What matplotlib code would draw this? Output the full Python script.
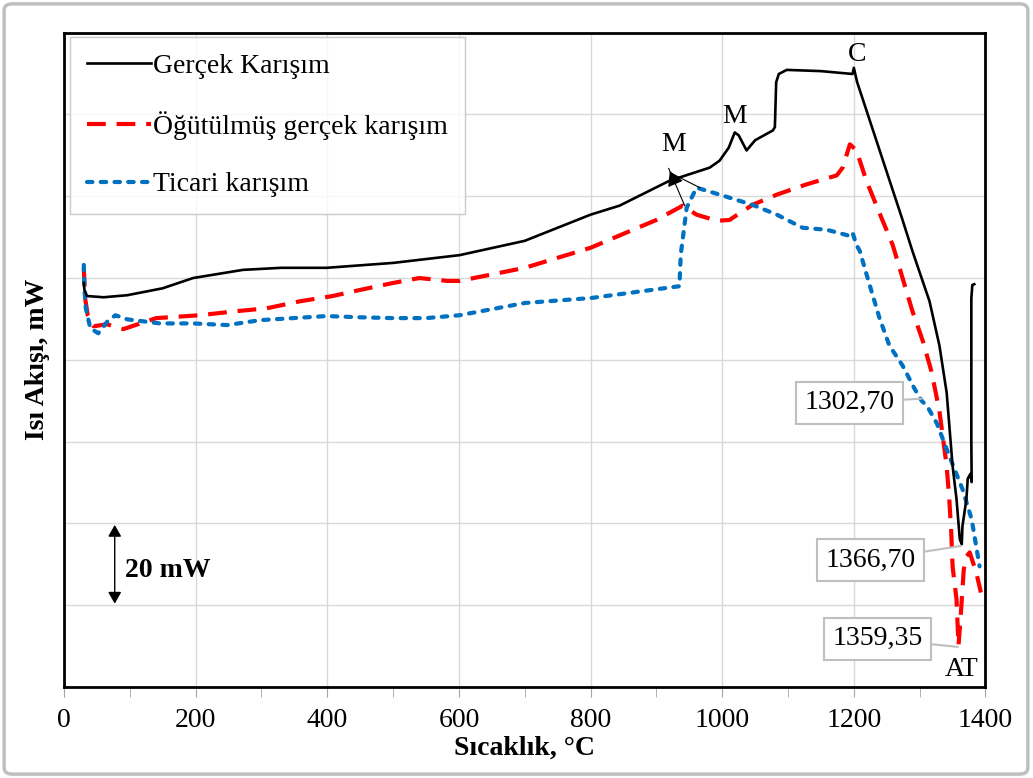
import matplotlib
matplotlib.use("Agg")
import matplotlib.pyplot as plt
from matplotlib.patches import FancyBboxPatch
from matplotlib.ticker import MultipleLocator

plt.rcParams['font.family'] = ['Liberation Serif', 'DejaVu Serif']

# Gerçek Karışım (black)
gercek_t = [30, 31, 35, 60, 96, 150, 196, 272, 330, 399, 500, 601, 700, 800, 844,
            920, 981, 996, 1010, 1019, 1025, 1037, 1050, 1077, 1080, 1082, 1086,
            1098, 1150, 1198, 1200, 1205, 1273, 1289, 1315, 1330, 1341, 1350, 1356,
            1361, 1364, 1365, 1371, 1373, 1377, 1379, 1378.5, 1378.5, 1380, 1383]
gercek_q = [98.8, 97.1, 95.6, 95.3, 95.8, 97.5, 100.0, 102.0, 102.5, 102.5, 103.7,
            105.6, 109.1, 115.5, 117.7, 123.8, 127.0, 128.7, 131.9, 135.6, 134.9,
            131.2, 133.7, 136.1, 136.9, 147.9, 149.9, 150.9, 150.6, 149.9, 151.4,
            147.9, 114.7, 106.6, 94.3, 83.5, 72.0, 54.1, 45.9, 36.1, 34.9, 39.3,
            45.9, 50.9, 52.1, 50.1, 60.0, 95.0, 98.3, 98.5]

# Öğütülmüş gerçek karışım (red)
ogutulmus_t = [30, 32, 36, 45, 65, 90, 140, 206, 262, 308, 358, 408, 450, 500, 540,
               582, 601, 700, 800, 860, 900, 940, 961, 992, 1011, 1046, 1083, 1128,
               1174, 1183, 1194, 1204, 1219, 1242, 1259, 1274, 1289, 1305, 1318, 1330,
               1341, 1345, 1348, 1350, 1356, 1359, 1362, 1367, 1371, 1376, 1386, 1393]
ogutulmus_q = [102.5, 95.1, 90.9, 88.2, 88.7, 87.5, 90.2, 90.9, 91.9, 92.6, 94.3, 95.6,
               97.1, 98.8, 100.0, 99.3, 99.3, 102.5, 107.4, 111.5, 114.2, 117.7, 115.5,
               114.0, 114.2, 117.9, 120.4, 122.9, 125.1, 127.0, 132.7, 131.2, 123.8,
               114.7, 108.1, 100.0, 91.9, 84.5, 77.1, 67.5, 54.1, 45.9, 37.8, 29.5,
               21.4, 10.1, 16.5, 28.7, 31.9, 32.9, 28.0, 23.1]

# Ticari karışım (blue)
ticari_t = [30, 31, 33, 40, 52, 66, 78, 96, 146, 196, 248, 298, 348, 399, 450, 500,
            550, 601, 700, 800, 935, 937, 946, 961, 996, 1046, 1083, 1122, 1159, 1194,
            1198, 1204, 1209, 1224, 1239, 1254, 1274, 1292, 1303, 1312, 1326, 1345,
            1365, 1379, 1391]
ticari_q = [103.2, 97.5, 92.6, 87.7, 86.5, 89.4, 90.9, 89.9, 88.9, 88.9, 88.5, 89.7,
            90.2, 90.7, 90.4, 90.2, 90.2, 90.9, 93.9, 95.1, 98.0, 105.7, 117.2, 122.1,
            120.4, 117.9, 115.5, 112.3, 111.8, 110.3, 111.1, 108.1, 106.6, 98.3, 90.2,
            83.5, 78.6, 73.0, 70.0, 68.5, 64.5, 56.5, 48.4, 41.0, 29.5]

fig = plt.figure(figsize=(10.33, 7.78), dpi=100)
ax = fig.add_axes([0.062, 0.117, 0.892, 0.841])

ax.plot(gercek_t, gercek_q, color='black', lw=1.9, label='Gerçek Karışım', zorder=4)
ax.plot(ogutulmus_t, ogutulmus_q, color='#FF0000', lw=3,
        linestyle=(0, (4.5, 2.6)), label='Öğütülmüş gerçek karışım', zorder=3)
ax.plot(ticari_t, ticari_q, color='#0070C0', lw=3, dash_capstyle='round',
        linestyle=(0, (1.3, 2.0)), label='Ticari karışım', zorder=3)

ax.set_xlim(0, 1400)
ax.set_ylim(0, 160)
ax.xaxis.set_major_locator(MultipleLocator(200))
ax.xaxis.set_minor_locator(MultipleLocator(100))
ax.yaxis.set_major_locator(MultipleLocator(20))
ax.grid(True, color='#d9d9d9', lw=1)
ax.set_axisbelow(True)
ax.tick_params(axis='x', which='both', direction='out', length=7, color='#a6a6a6',
               labelsize=20, pad=8)
ax.tick_params(axis='y', left=False, labelleft=False)
for s in ax.spines.values():
    s.set_linewidth(2)
    s.set_color('black')

ax.set_xlabel('Sıcaklık, °C', fontsize=20, fontweight='bold', labelpad=2)
ax.set_ylabel('Isı Akışı, mW', fontsize=20, fontweight='bold', labelpad=10)

leg = ax.legend(loc='upper left', fontsize=20, frameon=True, fancybox=False,
                handlelength=2.3, handletextpad=0.1, labelspacing=1.16,
                borderpad=0.6, borderaxespad=0, bbox_to_anchor=(0.0065, 0.994))
leg.get_frame().set_edgecolor('#bfbfbf')
leg.get_frame().set_linewidth(1)

# peak markers
ax.plot([943, 918.7], [117.7, 126.8], color='black', lw=0.8, zorder=5)
ax.plot([966, 924], [122.1, 125.5], color='black', lw=0.8, zorder=5)
ax.annotate('', xy=(918.7, 126.8), xytext=(930, 122.6),
            arrowprops=dict(arrowstyle='-|>,head_length=0.9,head_width=0.5',
                            color='black', lw=0.8), zorder=6)
ax.text(926, 129.5, 'M', fontsize=20, ha='center', va='bottom')
ax.text(1019, 136.5, 'M', fontsize=20, ha='center', va='bottom')
ax.text(1205, 151.5, 'C', fontsize=20, ha='center', va='bottom')
ax.text(1364, 1.2, 'AT', fontsize=20, ha='center', va='bottom')

# value callouts
box = dict(boxstyle='square,pad=0.3', facecolor='white', edgecolor='#bfbfbf', lw=1.5)
callouts = [('1302,70', (1303, 70.5), (1193, 69.5)),
            ('1366,70', (1363, 34.5), (1225, 31.0)),
            ('1359,35', (1358, 9.8), (1236, 11.8))]
for txt, xy, xyt in callouts:
    ax.annotate(txt, xy=xy, xytext=xyt, fontsize=20, ha='center', va='center',
                bbox=box, zorder=7,
                arrowprops=dict(arrowstyle='-', color='#bfbfbf', lw=1.5,
                                shrinkA=0, shrinkB=0))

# 20 mW scale bar
ax.annotate('', xy=(77, 40.3), xytext=(77, 19.7),
            arrowprops=dict(arrowstyle='<|-|>,head_length=0.7,head_width=0.4',
                            color='black', lw=1))
ax.text(93, 28.5, '20 mW', fontsize=20, fontweight='bold', ha='left', va='center')

# outer chart border
fig.patches.append(FancyBboxPatch((0.004, 0.005), 0.991, 0.99,
                                  boxstyle='round,pad=0,rounding_size=0.008',
                                  transform=fig.transFigure, facecolor='none',
                                  edgecolor='#bfbfbf', lw=2.5))

fig.savefig('out.png', dpi=100)
